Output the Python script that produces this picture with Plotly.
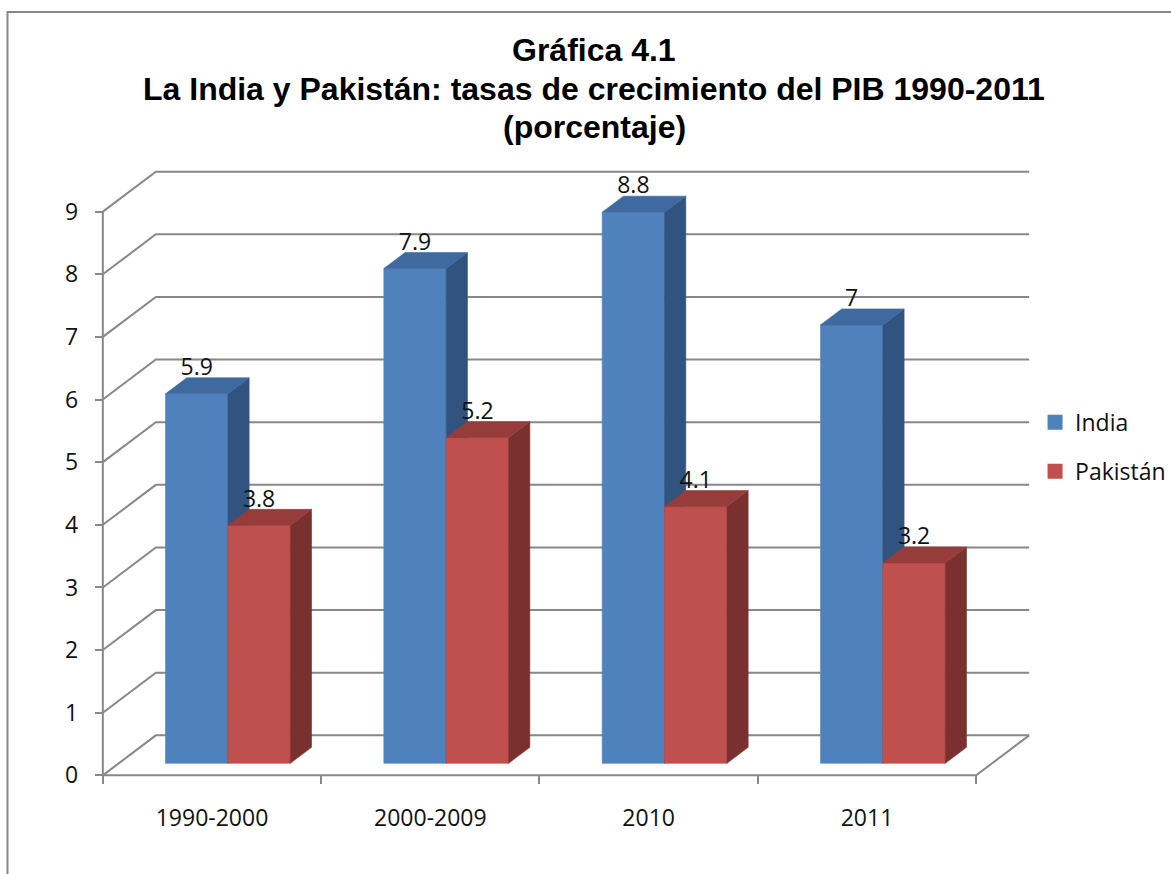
import plotly.graph_objects as go

# ---------------- data ----------------
categories = ["1990-2000", "2000-2009", "2010", "2011"]
india = [5.9, 7.9, 8.8, 7.0]
pakistan = [3.8, 5.2, 4.1, 3.2]
series_names = ["India", "Pakistán"]
y_ticks = [0, 1, 2, 3, 4, 5, 6, 7, 8, 9]
title_lines = ["Gráfica 4.1",
               "La India y Pakistán: tasas de crecimiento del PIB 1990-2011",
               "(porcentaje)"]

# ---------------- style ----------------
FRONT = ["#4F81BD", "#C0504D"]
TOP = ["#3E6A9F", "#963D3B"]
SIDE = ["#31537F", "#7A302E"]
GRID = "#888888"
TXT = "#111111"
FONT = "Open Sans"
TFONT = "Liberation Sans, Arial"

W, H = 1171, 874
PXX = 218.2   # px per category unit
PXY = 62.67   # px per value unit
X0PX, Y0PX = 103.3, 775.7  # pixel of the front origin
DX = 53 / PXX     # depth offset in category units
DY = 40 / PXY     # depth offset in value units
BAR_W = 1 / 3.5   # gap width 150%
D0, D1 = 0.3, 0.7
LABEL_GAP_PX = -3

n = len(categories)
PADX, PADY = 0.1, 0.25
xr = [-PADX, n + DX + PADX]
yr = [-PADY, max(y_ticks) + DY + PADY]
ml = X0PX - PADX * PXX
pw = (xr[1] - xr[0]) * PXX
mr = W - ml - pw
mb = H - Y0PX - PADY * PXY
ph = (yr[1] - yr[0]) * PXY
mt = H - mb - ph


def fx(px):
    return (px - ml) / pw


def fy(py):
    return (H - mb - py) / ph


fig = go.Figure()

# ---------------- walls / floor / grid ----------------
gx, gy = [], []
for v in y_ticks:
    gx += [0, DX, n + DX, None]
    gy += [v, v + DY, v + DY, None]
gx += [0, 0, None, 0, n, n + DX, None]
gy += [max(y_ticks), 0, None, 0, 0, DY, None]
fig.add_trace(go.Scatter(x=gx, y=gy, mode="lines",
                         line=dict(color=GRID, width=2),
                         hoverinfo="skip", showlegend=False))

# ---------------- 3D bars ----------------
ddx = (D1 - D0) * DX
ddy = (D1 - D0) * DY
label_x, label_y, label_t = [], [], []
for s, values in enumerate([india, pakistan]):
    fxs, fys, sxs, sys_, txs, tys = [], [], [], [], [], []
    for i, v in enumerate(values):
        xl = i + 0.5 + D0 * DX - BAR_W + s * BAR_W
        xh = xl + BAR_W
        yb = D0 * DY
        yt = v + D0 * DY
        fxs += [xl, xh, xh, xl, xl, None]
        fys += [yb, yb, yt, yt, yb, None]
        sxs += [xh, xh + ddx, xh + ddx, xh, xh, None]
        sys_ += [yb, yb + ddy, yt + ddy, yt, yb, None]
        txs += [xl, xh, xh + ddx, xl + ddx, xl, None]
        tys += [yt, yt, yt + ddy, yt + ddy, yt, None]
        label_x.append((xl + xh) / 2)
        label_y.append(yt + ddy + LABEL_GAP_PX / PXY)
        label_t.append(f"{v:g}")
    for xs, ys, col in [(fxs, fys, FRONT[s]), (sxs, sys_, SIDE[s]), (txs, tys, TOP[s])]:
        fig.add_trace(go.Scatter(x=xs, y=ys, mode="lines", fill="toself",
                                 fillcolor=col, line=dict(color=col, width=0.6),
                                 hoverinfo="skip", showlegend=False))

# data labels
fig.add_trace(go.Scatter(x=label_x, y=label_y, mode="text", text=label_t,
                         textposition="top center", cliponaxis=False,
                         textfont=dict(family=FONT, size=23, color=TXT),
                         hoverinfo="skip", showlegend=False))

# legend entries
for s, name in enumerate(series_names):
    fig.add_trace(go.Scatter(x=[None], y=[None], mode="markers", name=name,
                             legendgroup=name,
                             marker=dict(symbol="square", size=15, color=FRONT[s])))

# title
for k, line in enumerate(title_lines):
    fig.add_annotation(text=f"<b>{line}</b>", xref="paper", yref="paper",
                       x=fx(W / 2 + 9), y=fy(50 + 38.5 * k), xanchor="center",
                       yanchor="middle", showarrow=False,
                       font=dict(family=TFONT, size=32, color="#000000"))

# frame (left and top edges visible)
fig.add_shape(type="path", xref="paper", yref="paper",
              path=f"M {fx(8)} {fy(H + 5)} L {fx(8)} {fy(12)} L {fx(W + 5)} {fy(12)}",
              line=dict(color="#878787", width=2))

fig.update_layout(
    width=W, height=H,
    margin=dict(l=ml, r=mr, t=mt, b=mb, autoexpand=False),
    paper_bgcolor="white", plot_bgcolor="white",
    showlegend=True,
    legend=dict(x=fx(1035), y=fy(447), xanchor="left", yanchor="middle",
                font=dict(family=FONT, size=23, color=TXT),
                tracegroupgap=16, bgcolor="rgba(0,0,0,0)"),
    xaxis=dict(range=xr, showgrid=False, zeroline=False, showline=False,
               tickmode="array", tickvals=[i + 0.5 for i in range(n)],
               ticktext=categories, ticks="", ticklabelstandoff=27,
               tickfont=dict(family=FONT, size=23, color=TXT),
               minor=dict(tickmode="array", tickvals=list(range(n + 1)),
                          ticks="outside", ticklen=8, tickwidth=2,
                          tickcolor=GRID, showgrid=False),
               anchor="free", position=PADY / (yr[1] - yr[0])),
    yaxis=dict(range=yr, showgrid=False, zeroline=False, showline=False,
               tickmode="array", tickvals=y_ticks, ticks="outside",
               ticklen=8, tickwidth=2, tickcolor=GRID, ticklabelstandoff=12,
               tickfont=dict(family=FONT, size=23, color=TXT),
               anchor="free", position=PADX / (xr[1] - xr[0])),
)

fig.write_html("out.html", config={"displayModeBar": False},
               post_script="document.body.style.margin='0';document.body.style.padding='0';")
